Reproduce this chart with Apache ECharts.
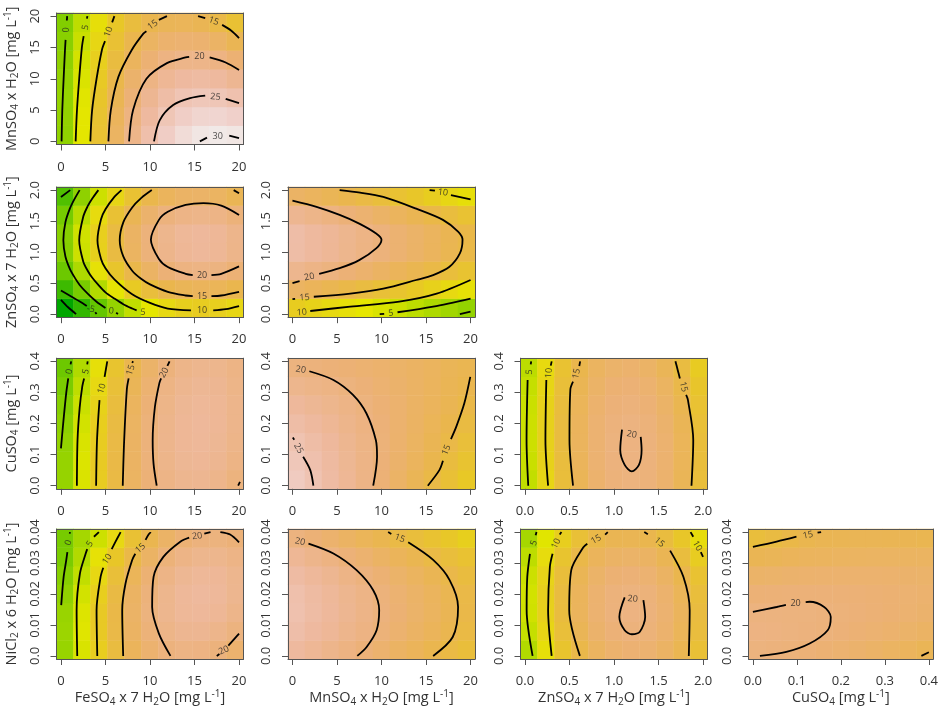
<!DOCTYPE html>
<html>
<head>
<meta charset="utf-8">
<script src="https://cdn.jsdelivr.net/npm/echarts@6/dist/echarts.min.js"></script>
<style>
  html, body { margin: 0; padding: 0; background: #fff; }
  #chart { width: 941px; height: 710px; }
</style>
</head>
<body>
<div id="chart"></div>
<script>
// factor ranges and tick labels
const feRange = [0, 20];
const mnRange = [0, 20];
const znRange = [0, 2];
const cuRange = [0, 0.4];
const niRange = [0, 0.04];
const feTicks = [0, 5, 10, 15, 20];
const mnTicks = [0, 5, 10, 15, 20];
const znTicks = [0, 0.5, 1, 1.5, 2];
const cuTicks = [0, 0.1, 0.2, 0.3, 0.4];
const niTicks = [0, 0.01, 0.02, 0.03, 0.04];
const feTickLabels = ['0', '5', '10', '15', '20'];
const mnTickLabels = ['0', '5', '10', '15', '20'];
const znTickLabels = ['0.0', '0.5', '1.0', '1.5', '2.0'];
const cuTickLabels = ['0.0', '0.1', '0.2', '0.3', '0.4'];
const niTickLabels = ['0.0', '0.01', '0.02', '0.03', '0.04'];

const xTitles = [
  'FeSO{b|4} x 7 H{b|2}O [mg L{p|-1}]',
  'MnSO{b|4} x H{b|2}O [mg L{p|-1}]',
  'ZnSO{b|4} x 7 H{b|2}O [mg L{p|-1}]',
  'CuSO{b|4} [mg L{p|-1}]'
];
const yTitles = [
  'MnSO{b|4} x H{b|2}O [mg L{p|-1}]',
  'ZnSO{b|4} x 7 H{b|2}O [mg L{p|-1}]',
  'CuSO{b|4} [mg L{p|-1}]',
  'NiCl{b|2} x 6 H{b|2}O [mg L{p|-1}]'
];

// response surface values, 11 columns (x from min to max) x 7 rows (y from min to max)
const feMnCells = [
  [-0.3, 6.2, 12.0, 17.0, 21.2, 24.7, 27.4, 29.3, 30.5, 30.9, 30.5],
  [-0.1, 6.2, 11.7, 16.4, 20.3, 23.5, 25.9, 27.5, 28.4, 28.5, 27.9],
  [0.0, 6.0, 11.1, 15.6, 19.2, 22.1, 24.2, 25.6, 26.2, 26.0, 25.0],
  [-0.1, 5.5, 10.4, 14.6, 18.0, 20.6, 22.4, 23.5, 23.8, 23.3, 22.1],
  [-0.4, 5.0, 9.6, 13.4, 16.5, 18.9, 20.4, 21.2, 21.2, 20.5, 18.9],
  [-0.9, 4.2, 8.6, 12.1, 14.9, 17.0, 18.2, 18.7, 18.4, 17.4, 15.6],
  [-1.5, 3.3, 7.4, 10.6, 13.2, 14.9, 15.9, 16.1, 15.5, 14.2, 12.1]
];
const feZnCells = [
  [-15.0, -9.2, -4.2, 0.1, 3.6, 6.3, 8.3, 9.5, 10.0, 9.6, 8.6],
  [-8.1, -2.4, 2.5, 6.7, 10.2, 12.9, 14.8, 15.9, 16.3, 16.0, 14.9],
  [-3.5, 2.1, 7.1, 11.2, 14.6, 17.3, 19.2, 20.3, 20.6, 20.2, 19.1],
  [-1.2, 4.5, 9.4, 13.6, 16.9, 19.6, 21.4, 22.5, 22.9, 22.5, 21.3],
  [-1.0, 4.7, 9.6, 13.7, 17.1, 19.7, 21.6, 22.7, 23.0, 22.6, 21.4],
  [-2.6, 3.0, 7.9, 12.1, 15.5, 18.1, 19.9, 20.9, 21.2, 20.8, 19.6],
  [-6.1, -0.4, 4.5, 8.7, 12.0, 14.7, 16.4, 17.4, 17.6, 17.0, 15.7]
];
const mnZnCells = [
  [9.9, 9.1, 8.2, 7.3, 6.4, 5.4, 4.4, 3.3, 2.2, 1.1, -0.1],
  [17.0, 16.2, 15.3, 14.4, 13.5, 12.5, 11.5, 10.4, 9.3, 8.2, 7.0],
  [21.7, 20.9, 20.1, 19.2, 18.2, 17.2, 16.2, 15.2, 14.1, 12.9, 11.7],
  [24.2, 23.3, 22.5, 21.6, 20.6, 19.7, 18.6, 17.6, 16.5, 15.3, 14.2],
  [24.3, 23.4, 22.6, 21.7, 20.7, 19.8, 18.7, 17.7, 16.6, 15.4, 14.3],
  [22.0, 21.2, 20.3, 19.4, 18.5, 17.5, 16.5, 15.4, 14.3, 13.2, 12.0],
  [17.4, 16.6, 15.8, 14.9, 13.9, 12.9, 11.9, 10.9, 9.8, 8.6, 7.4]
];
const feCuCells = [
  [0.2, 5.5, 10.1, 13.9, 17.0, 19.3, 20.9, 21.8, 22.0, 21.4, 20.0],
  [0.2, 5.6, 10.2, 14.1, 17.2, 19.6, 21.3, 22.3, 22.5, 22.0, 20.7],
  [-0.1, 5.4, 10.0, 14.0, 17.2, 19.7, 21.5, 22.5, 22.8, 22.3, 21.2],
  [-0.6, 4.9, 9.7, 13.7, 17.0, 19.6, 21.4, 22.5, 22.9, 22.5, 21.4],
  [-1.3, 4.3, 9.1, 13.2, 16.6, 19.2, 21.1, 22.3, 22.7, 22.4, 21.4],
  [-2.2, 3.4, 8.3, 12.5, 15.9, 18.6, 20.6, 21.8, 22.3, 22.1, 21.1],
  [-3.4, 2.3, 7.3, 11.5, 15.0, 17.8, 19.8, 21.2, 21.7, 21.6, 20.7]
];
const mnCuCells = [
  [26.9, 25.4, 23.9, 22.4, 20.8, 19.2, 17.5, 15.8, 14.1, 12.3, 10.5],
  [26.2, 24.9, 23.6, 22.2, 20.9, 19.4, 18.0, 16.5, 14.9, 13.3, 11.7],
  [25.3, 24.2, 23.1, 21.9, 20.7, 19.5, 18.2, 16.9, 15.6, 14.2, 12.7],
  [24.2, 23.3, 22.4, 21.4, 20.4, 19.4, 18.3, 17.2, 16.0, 14.8, 13.6],
  [23.0, 22.3, 21.6, 20.8, 20.0, 19.1, 18.3, 17.3, 16.4, 15.4, 14.3],
  [21.6, 21.1, 20.6, 20.0, 19.4, 18.7, 18.0, 17.3, 16.5, 15.7, 14.9],
  [20.1, 19.8, 19.4, 19.1, 18.6, 18.2, 17.7, 17.1, 16.6, 15.9, 15.3]
];
const znCuCells = [
  [3.7, 8.7, 12.8, 15.9, 18.2, 19.6, 20.0, 19.6, 18.2, 15.9, 12.8],
  [4.2, 9.2, 13.2, 16.3, 18.6, 19.9, 20.3, 19.8, 18.4, 16.1, 12.9],
  [4.5, 9.4, 13.4, 16.5, 18.7, 20.0, 20.3, 19.8, 18.4, 16.1, 12.8],
  [4.5, 9.4, 13.4, 16.4, 18.6, 19.8, 20.2, 19.6, 18.1, 15.8, 12.5],
  [4.3, 9.2, 13.1, 16.1, 18.2, 19.4, 19.7, 19.1, 17.6, 15.2, 11.9],
  [3.9, 8.7, 12.6, 15.6, 17.6, 18.8, 19.1, 18.4, 16.9, 14.5, 11.1],
  [3.2, 8.0, 11.8, 14.8, 16.8, 17.9, 18.2, 17.5, 15.9, 13.5, 10.1]
];
const feNiCells = [
  [0.3, 5.4, 9.8, 13.4, 16.3, 18.4, 19.9, 20.6, 20.5, 19.8, 18.3],
  [0.7, 5.9, 10.4, 14.2, 17.2, 19.5, 21.1, 22.0, 22.1, 21.4, 20.1],
  [0.4, 5.7, 10.4, 14.3, 17.5, 20.0, 21.7, 22.7, 22.9, 22.5, 21.3],
  [-0.3, 4.9, 9.7, 13.8, 17.1, 19.7, 21.6, 22.8, 23.2, 22.9, 21.8],
  [-1.2, 3.6, 8.4, 12.6, 16.1, 18.9, 20.9, 22.2, 22.7, 22.6, 21.7],
  [-2.2, 2.5, 7.0, 10.8, 14.4, 17.3, 19.5, 20.9, 21.6, 21.6, 20.9],
  [-2.5, 1.4, 4.5, 8.3, 12.1, 15.1, 17.5, 19.0, 19.9, 20.0, 19.4]
];
const mnNiCells = [
  [23.4, 22.4, 21.4, 20.4, 19.4, 18.3, 17.2, 16.2, 15.0, 13.9, 12.8],
  [24.5, 23.5, 22.6, 21.5, 20.5, 19.5, 18.4, 17.3, 16.2, 15.1, 13.9],
  [25.0, 24.0, 23.0, 22.0, 21.0, 19.9, 18.9, 17.8, 16.7, 15.5, 14.4],
  [24.8, 23.8, 22.8, 21.8, 20.8, 19.7, 18.7, 17.6, 16.5, 15.3, 14.2],
  [23.9, 22.9, 22.0, 20.9, 19.9, 18.9, 17.8, 16.7, 15.6, 14.5, 13.3],
  [22.4, 21.4, 20.4, 19.4, 18.4, 17.3, 16.2, 15.2, 14.0, 12.9, 11.8],
  [20.1, 19.2, 18.2, 17.2, 16.1, 15.1, 14.0, 12.9, 11.8, 10.7, 9.5]
];
const znNiCells = [
  [2.5, 7.3, 11.4, 14.5, 16.8, 18.2, 18.8, 18.5, 17.3, 15.3, 12.4],
  [3.9, 8.7, 12.7, 15.8, 18.0, 19.3, 19.8, 19.5, 18.2, 16.1, 13.2],
  [4.7, 9.4, 13.3, 16.4, 18.5, 19.8, 20.3, 19.8, 18.5, 16.4, 13.4],
  [4.9, 9.5, 13.4, 16.3, 18.4, 19.7, 20.0, 19.6, 18.2, 16.0, 12.9],
  [4.4, 9.0, 12.8, 15.7, 17.7, 18.9, 19.2, 18.6, 17.2, 14.9, 11.8],
  [3.3, 7.8, 11.5, 14.4, 16.3, 17.4, 17.7, 17.1, 15.6, 13.2, 10.0],
  [1.5, 6.0, 9.7, 12.4, 14.3, 15.4, 15.6, 14.9, 13.3, 10.9, 7.7]
];
const cuNiCells = [
  [20.0, 19.8, 19.6, 19.3, 18.9, 18.5, 18.1, 17.6, 17.0, 16.5, 15.8],
  [20.4, 20.3, 20.1, 19.9, 19.7, 19.4, 19.0, 18.7, 18.2, 17.8, 17.3],
  [20.1, 20.1, 20.0, 20.0, 19.8, 19.6, 19.4, 19.1, 18.8, 18.5, 18.1],
  [19.2, 19.3, 19.4, 19.4, 19.4, 19.3, 19.2, 19.0, 18.8, 18.6, 18.3],
  [17.7, 17.9, 18.1, 18.2, 18.3, 18.3, 18.3, 18.3, 18.2, 18.0, 17.9],
  [15.6, 15.9, 16.2, 16.5, 16.6, 16.8, 16.9, 17.0, 17.0, 16.9, 16.9],
  [12.9, 13.6, 14.3, 15.0, 15.4, 15.6, 15.7, 15.7, 15.6, 15.4, 15.2]
];

// contour segments (broken where the level label sits) and labels [x, y, text, angle]
const feMnLines = [
  [[0.07, 0], [0.15, 5], [0.3, 10], [0.45, 14.5], [0.52, 16.2]],
  [[0.66, 19.3], [0.7, 20]],
  [[1.65, 0], [1.8, 5], [2.05, 10], [2.35, 15], [2.55, 16.8]],
  [[2.92, 19.6], [2.97, 20]],
  [[3.3, 0], [3.5, 5], [4.0, 10], [4.6, 14.6], [4.95, 16.0]],
  [[5.75, 19.0], [6.0, 20]],
  [[5.33, 0], [5.6, 5], [6.45, 10.3], [7.95, 14.6], [9.25, 17.2], [9.6, 17.6]],
  [[11.0, 19.4], [11.9, 20]],
  [[15.4, 20], [16.2, 19.7]],
  [[18.1, 18.6], [19.1, 17.7], [20, 16.5]],
  [[7.65, 0], [8.1, 5], [9.6, 10], [11.9, 12.5], [14.0, 13.4], [14.4, 13.5]],
  [[16.7, 13.4], [18.5, 12.6], [20, 11.4]],
  [[10.45, 0], [11.1, 3.4], [12.6, 5.8], [14.5, 6.9], [16.2, 7.3]],
  [[18.5, 6.8], [20, 6.1]],
  [[15.6, 0], [16.4, 0.6]],
  [[18.9, 0.9], [20, 0.5]]
];
const feMnLabels = [[0.6, 17.8, '0', 85], [2.75, 18.2, '5', 78], [5.35, 17.5, '10', 70], [10.3, 18.6, '15', 35],
  [17.15, 19.2, '15', -20], [15.55, 13.5, '20', 0], [17.35, 7.1, '25', -5], [17.6, 0.8, '30', 0]];

const feZnLines = [
  [[0, 0.23], [0.8, 0.11], [1.7, 0]],
  [[0, 0.38], [1.2, 0.28], [2.4, 0.18], [2.9, 0.13]],
  [[3.85, 0.03], [4.0, 0]],
  [[0, 1.89], [1.04, 2.0]],
  [[2.1, 2.0], [1.5, 1.85], [1.0, 1.7], [0.5, 1.48], [0.27, 1.19], [0.5, 0.93], [1.0, 0.73], [1.5, 0.6], [2.1, 0.47], [3.0, 0.33], [4.0, 0.2], [5.0, 0.1]],
  [[6.2, 0.02], [6.4, 0]],
  [[4.2, 2.0], [3.5, 1.86], [3.0, 1.74], [2.5, 1.57], [2.05, 1.19], [2.5, 0.85], [3.0, 0.7], [3.5, 0.59], [4.2, 0.47], [5, 0.35], [6, 0.25], [7, 0.16], [8, 0.09], [8.5, 0.06]],
  [[6.8, 2.0], [6.0, 1.89], [5.0, 1.69], [4.5, 1.53], [4.1, 1.19], [4.5, 0.89], [5, 0.74], [6, 0.56], [8, 0.32], [10, 0.18], [12, 0.09], [14.6, 0.06]],
  [[17.1, 0.06], [18.5, 0.08], [20, 0.13]],
  [[10.2, 2.0], [9, 1.87], [8, 1.72], [7, 1.48], [6.6, 1.19], [7, 0.93], [8, 0.7], [9, 0.57], [10, 0.48], [12, 0.36], [14, 0.3], [14.8, 0.29]],
  [[16.9, 0.29], [18, 0.3], [20, 0.36]],
  [[19.4, 2.0], [20, 1.95]],
  [[20, 1.6], [18, 1.75], [16, 1.79], [14, 1.76], [12, 1.65], [11, 1.52], [10.1, 1.2], [11, 0.89], [12, 0.76], [14, 0.65], [14.8, 0.63]],
  [[16.9, 0.63], [18, 0.65], [20, 0.77]]
];
const feZnLabels = [[3.35, 0.08, '-5', -10], [5.65, 0.05, '0', -5], [9.2, 0.03, '5', -3],
  [15.85, 0.06, '10', 0], [15.85, 0.29, '15', 0], [15.85, 0.63, '20', 0]];

const mnZnLines = [
  [[0, 1.83], [2.7, 1.73], [5.3, 1.6], [7.5, 1.46], [9.4, 1.3], [10, 1.2], [9.4, 1.06], [7.5, 0.87], [5.3, 0.74], [3.0, 0.65]],
  [[0.8, 0.53], [0, 0.5]],
  [[5.3, 2.0], [7.6, 1.96], [10.2, 1.89], [13.9, 1.7], [16.9, 1.52], [18.6, 1.33], [19.1, 1.2], [18.8, 0.98], [17.6, 0.76], [15.8, 0.63], [13.9, 0.55], [10.2, 0.41], [6.5, 0.33], [2.4, 0.28]],
  [[0.3, 0.245], [0, 0.24]],
  [[15.4, 2.0], [16.0, 1.99]],
  [[17.8, 1.92], [20, 1.85]],
  [[20, 0.55], [16.2, 0.33], [12, 0.2], [6.5, 0.12], [2.0, 0.05]],
  [[9.8, 0], [10.3, 0.005]],
  [[11.8, 0.03], [15.8, 0.12], [20, 0.25]],
  [[18.8, 0], [20, 0.04]]
];
const mnZnLabels = [[1.9, 0.6, '20', 12], [1.35, 0.265, '15', 4], [16.9, 1.96, '10', -8],
  [1.05, 0.025, '10', 5], [11.05, 0.015, '5', 5]];

const feCuLines = [
  [[0, 0.12], [0.25, 0.2], [0.6, 0.3], [0.82, 0.345]],
  [[1.08, 0.39], [1.15, 0.4]],
  [[1.79, 0], [1.86, 0.146], [2.1, 0.25], [2.4, 0.32], [2.6, 0.345]],
  [[2.95, 0.39], [3.0, 0.4]],
  [[3.95, 0], [4.05, 0.146], [4.33, 0.275]],
  [[4.9, 0.35], [5.2, 0.4]],
  [[6.94, 0], [7.1, 0.146], [7.4, 0.31], [7.6, 0.345]],
  [[8.0, 0.395], [8.1, 0.4]],
  [[10.75, 0], [10.4, 0.07], [10.3, 0.146], [10.55, 0.253], [11.05, 0.33], [11.25, 0.345]],
  [[11.95, 0.385], [12.2, 0.4]],
  [[19.9, 0], [20.1, 0.012]]
];
const feCuLabels = [[0.96, 0.367, '0', 80], [2.8, 0.367, '5', 75], [4.6, 0.312, '10', 72],
  [7.84, 0.372, '15', 72], [11.6, 0.363, '20', 62]];

const mnCuLines = [
  [[1.9, 0.368], [4.6, 0.34], [6.8, 0.292], [8.3, 0.233], [9.37, 0.146], [9.5, 0.093], [9.07, 0]],
  [[0.04, 0.155], [0.2, 0.148]],
  [[1.2, 0.093], [2.0, 0.05], [2.35, 0]],
  [[15.2, 0], [16.5, 0.05], [16.9, 0.08]],
  [[17.8, 0.15], [18.4, 0.19], [19.3, 0.265], [19.97, 0.35]]
];
const mnCuLabels = [[0.94, 0.373, '20', -8], [0.67, 0.12, '25', -60], [17.3, 0.115, '15', 66]];

const znCuLines = [
  [[0.037, 0], [0.018, 0.147], [0.03, 0.34]],
  [[0.065, 0.39], [0.07, 0.4]],
  [[0.26, 0], [0.23, 0.147], [0.24, 0.34]],
  [[0.29, 0.386], [0.3, 0.4]],
  [[0.54, 0], [0.5, 0.147], [0.51, 0.31], [0.54, 0.335]],
  [[0.61, 0.385], [0.62, 0.4]],
  [[1.87, 0], [1.89, 0.147], [1.83, 0.276], [1.81, 0.292]],
  [[1.74, 0.345], [1.69, 0.4]],
  [[1.3, 0.157], [1.31, 0.115], [1.28, 0.067], [1.2, 0.046], [1.12, 0.067], [1.07, 0.115], [1.09, 0.18]]
];
const znCuLabels = [[0.05, 0.366, '5', 85], [0.27, 0.362, '10', 85], [0.58, 0.36, '15', 78],
  [1.78, 0.318, '15', -75], [1.2, 0.165, '20', -10]];

const feNiLines = [
  [[0.03, 0.0164], [0.3, 0.0255], [0.6, 0.031], [0.72, 0.0335]],
  [[0.98, 0.0395], [1.02, 0.04]],
  [[1.83, 0], [1.76, 0.0148], [2.13, 0.0266], [2.77, 0.033], [2.95, 0.0345]],
  [[3.7, 0.0385], [4.26, 0.04]],
  [[4.08, 0], [4.0, 0.0148], [4.45, 0.0255], [4.75, 0.0285]],
  [[5.7, 0.0345], [6.13, 0.0369], [6.7, 0.04]],
  [[6.99, 0], [6.88, 0.0148], [7.25, 0.0234], [8.0, 0.031], [8.35, 0.033]],
  [[9.5, 0.0375], [9.86, 0.0393], [10.1, 0.04]],
  [[12.3, 0], [11.0, 0.0072], [10.24, 0.0158], [10.4, 0.0255], [11.5, 0.032], [13.4, 0.0369], [14.4, 0.0382]],
  [[16.1, 0.0395], [16.8, 0.04]],
  [[17.9, 0.04], [19, 0.0392], [20, 0.0367]],
  [[17.5, 0], [17.8, 0.0006]],
  [[18.8, 0.0033], [20, 0.0072]]
];
const feNiLabels = [[0.85, 0.0366, '0', 70], [3.26, 0.0362, '5', 55], [5.2, 0.0313, '10', 55],
  [8.93, 0.0348, '15', 40], [15.3, 0.0387, '20', 8], [18.3, 0.0018, '20', 25]];

const mnNiLines = [
  [[1.8, 0.0363], [4.6, 0.0331], [7.2, 0.0277], [9.07, 0.0212], [9.74, 0.0148], [9.45, 0.0083], [8.33, 0.0029], [7.28, 0]],
  [[10.75, 0.04], [11.1, 0.0394]],
  [[13.0, 0.0367], [15.8, 0.031], [17.65, 0.0245], [18.6, 0.0158], [18.0, 0.0061], [15.8, 0]]
];
const mnNiLabels = [[0.86, 0.0369, '20', -12], [12.05, 0.038, '15', -20]];

const znNiLines = [
  [[0.086, 0], [0.019, 0.0148], [0.026, 0.0255], [0.056, 0.033]],
  [[0.12, 0.039], [0.13, 0.04]],
  [[0.3, 0], [0.26, 0.0148], [0.28, 0.0288], [0.31, 0.033]],
  [[0.39, 0.0392], [0.41, 0.04]],
  [[0.617, 0], [0.497, 0.0148], [0.52, 0.0277], [0.654, 0.035], [0.7, 0.0362]],
  [[0.9, 0.0392], [0.93, 0.04]],
  [[1.34, 0.04], [1.38, 0.0393]],
  [[1.63, 0.034], [1.78, 0.0255], [1.85, 0.0148], [1.84, 0]],
  [[1.86, 0.04], [1.89, 0.0385]],
  [[1.975, 0.0335], [2.0, 0.032]],
  [[1.33, 0.018], [1.35, 0.0126], [1.29, 0.0078], [1.2, 0.007], [1.12, 0.0083], [1.06, 0.0126], [1.12, 0.0189]]
];
const znNiLabels = [[0.1, 0.0365, '5', 70], [0.35, 0.0363, '10', 65], [0.8, 0.0376, '15', 30],
  [1.51, 0.0367, '15', -40], [1.935, 0.0355, '10', -60], [1.21, 0.0184, '20', -5]];

const cuNiLines = [
  [[0, 0.0352], [0.054, 0.0369], [0.099, 0.0385]],
  [[0.147, 0.0398], [0.155, 0.04]],
  [[0, 0.0142], [0.054, 0.0158], [0.075, 0.0165]],
  [[0.12, 0.0174], [0.129, 0.0175], [0.162, 0.0158], [0.177, 0.0126], [0.17, 0.0083], [0.129, 0.004], [0.076, 0.0013], [0.016, 0]],
  [[0.383, 0], [0.4, 0.0012]]
];
const cuNiLabels = [[0.125, 0.039, '15', 12], [0.097, 0.0171, '20', 0]];

// layout
const colLeft = [56.5, 288, 520.5, 748.5];
const colWidth = 187;
const rowTop = [13, 187, 358.2, 529];
const rowHeight = [131.5, 130.2, 130.6, 130];
const terrain = ['#00A600', '#24B300', '#4CBF00', '#7ACC00', '#ADD900', '#E6E600',
  '#E8C727', '#EAB64E', '#ECB176', '#EEB99F', '#F0CFC8', '#F2F2F2'];
const textColor = '#333';
const fontFamily = 'Open Sans';
const frameColor = '#555';

const axisInfo = {
  fe: { range: feRange, ticks: feTicks, labels: feTickLabels },
  mn: { range: mnRange, ticks: mnTicks, labels: mnTickLabels },
  zn: { range: znRange, ticks: znTicks, labels: znTickLabels },
  cu: { range: cuRange, ticks: cuTicks, labels: cuTickLabels },
  ni: { range: niRange, ticks: niTicks, labels: niTickLabels }
};

const panels = [
  { row: 0, col: 0, x: 'fe', y: 'mn', cells: feMnCells, lines: feMnLines, labels: feMnLabels },
  { row: 1, col: 0, x: 'fe', y: 'zn', cells: feZnCells, lines: feZnLines, labels: feZnLabels },
  { row: 1, col: 1, x: 'mn', y: 'zn', cells: mnZnCells, lines: mnZnLines, labels: mnZnLabels },
  { row: 2, col: 0, x: 'fe', y: 'cu', cells: feCuCells, lines: feCuLines, labels: feCuLabels },
  { row: 2, col: 1, x: 'mn', y: 'cu', cells: mnCuCells, lines: mnCuLines, labels: mnCuLabels },
  { row: 2, col: 2, x: 'zn', y: 'cu', cells: znCuCells, lines: znCuLines, labels: znCuLabels },
  { row: 3, col: 0, x: 'fe', y: 'ni', cells: feNiCells, lines: feNiLines, labels: feNiLabels },
  { row: 3, col: 1, x: 'mn', y: 'ni', cells: mnNiCells, lines: mnNiLines, labels: mnNiLabels },
  { row: 3, col: 2, x: 'zn', y: 'ni', cells: znNiCells, lines: znNiLines, labels: znNiLabels },
  { row: 3, col: 3, x: 'cu', y: 'ni', cells: cuNiCells, lines: cuNiLines, labels: cuNiLabels }
];

function tickFormatter(info) {
  return function (v) {
    for (let i = 0; i < info.ticks.length; i++) {
      if (Math.abs(info.ticks[i] - v) < 1e-9) return info.labels[i];
    }
    return '';
  };
}

const titleStyle = {
  color: textColor,
  fontFamily: fontFamily,
  fontSize: 14.5,
  rich: {
    b: { fontSize: 10, padding: [8, 0, 0, 0], color: textColor, fontFamily: fontFamily },
    p: { fontSize: 10, padding: [0, 0, 7, 0], color: textColor, fontFamily: fontFamily }
  }
};

function valueAxis(info, k, isX, title) {
  const pad = (info.range[1] - info.range[0]) / 40;
  return {
    type: 'value',
    gridIndex: k,
    position: isX ? 'bottom' : 'left',
    min: info.range[0] - pad,
    max: info.range[1] + pad,
    z: 10,
    axisLine: { show: true, onZero: false, lineStyle: { color: frameColor, width: 1 } },
    axisTick: { show: true, length: 6, customValues: info.ticks, lineStyle: { color: frameColor } },
    axisLabel: {
      customValues: info.ticks,
      formatter: tickFormatter(info),
      margin: isX ? 16 : 15,
      rotate: isX ? 0 : 90,
      color: textColor,
      fontSize: 13,
      fontFamily: fontFamily
    },
    splitLine: { show: false },
    name: title || '',
    nameLocation: 'middle',
    nameGap: isX ? 30 : 36,
    nameRotate: isX ? 0 : 90,
    nameTextStyle: titleStyle
  };
}

function categoryAxis(n, k, isX) {
  const data = [];
  for (let i = 0; i < n; i++) data.push(String(i));
  return {
    type: 'category',
    gridIndex: k,
    position: isX ? 'top' : 'right',
    data: data,
    z: 10,
    axisLine: { show: true, onZero: false, lineStyle: { color: frameColor, width: 1 } },
    axisTick: { show: false },
    axisLabel: { show: false },
    splitLine: { show: false }
  };
}

const grids = [];
const xAxes = [];
const yAxes = [];
const series = [];
const heatIndex = [];

panels.forEach(function (p, k) {
  grids.push({ left: colLeft[p.col], top: rowTop[p.row], width: colWidth, height: rowHeight[p.row] });
  const nx = p.cells[0].length;
  const ny = p.cells.length;
  xAxes.push(valueAxis(axisInfo[p.x], k, true, p.row === 3 ? xTitles[p.col] : ''));
  xAxes.push(categoryAxis(nx, k, true));
  yAxes.push(valueAxis(axisInfo[p.y], k, false, p.col === 0 ? yTitles[p.row] : ''));
  yAxes.push(categoryAxis(ny, k, false));

  const heat = [];
  p.cells.forEach(function (row, j) {
    row.forEach(function (v, i) { heat.push([i, j, v]); });
  });
  heatIndex.push(series.length);
  series.push({
    type: 'heatmap',
    xAxisIndex: 2 * k + 1,
    yAxisIndex: 2 * k + 1,
    data: heat,
    silent: true,
    z: 1,
    itemStyle: { borderWidth: 0 },
    emphasis: { disabled: true }
  });

  p.lines.forEach(function (seg) {
    series.push({
      type: 'line',
      xAxisIndex: 2 * k,
      yAxisIndex: 2 * k,
      data: seg,
      symbol: 'none',
      showSymbol: false,
      smooth: 0.3,
      silent: true,
      z: 3,
      lineStyle: { color: '#000', width: 1.8 }
    });
  });

  series.push({
    type: 'scatter',
    xAxisIndex: 2 * k,
    yAxisIndex: 2 * k,
    symbolSize: 1,
    silent: true,
    z: 4,
    itemStyle: { color: 'transparent' },
    data: p.labels.map(function (l) {
      return { value: [l[0], l[1]], name: l[2], label: { rotate: l[3] } };
    }),
    label: {
      show: true,
      position: 'inside',
      formatter: '{b}',
      fontSize: 9,
      color: '#222',
      fontFamily: fontFamily
    }
  });
});

const chart = echarts.init(document.getElementById('chart'));
chart.setOption({
  animation: false,
  backgroundColor: '#fff',
  grid: grids,
  xAxis: xAxes,
  yAxis: yAxes,
  visualMap: {
    type: 'continuous',
    show: false,
    min: -15,
    max: 32,
    seriesIndex: heatIndex,
    inRange: { color: terrain }
  },
  series: series
});
</script>
</body>
</html>
